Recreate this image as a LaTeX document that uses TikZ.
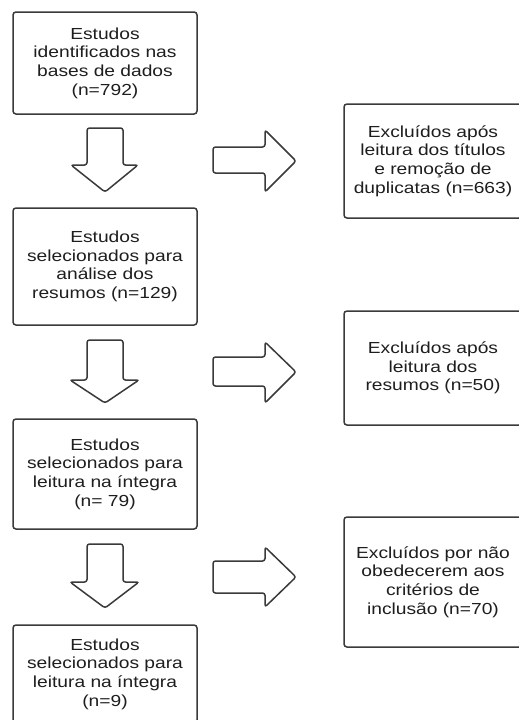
\documentclass[tikz,border=0pt]{standalone}
\usepackage{fontspec}
\setmainfont[FakeStretch=1.2]{Liberation Sans}
\definecolor{ink}{HTML}{1E1E1E}
\definecolor{edge}{HTML}{3A3A3A}
\tikzset{
  box/.style={draw=edge, line width=1.5pt, rounded corners=3pt, align=center,
    text=ink, font=\fontsize{16}{18.7}\selectfont, inner sep=0pt},
  blockarrow/.style={draw=edge, line width=1.5pt, rounded corners=2.5pt, fill=white}
}
\begin{document}
\begin{tikzpicture}[x=1pt,y=-1pt]
\useasboundingbox (0,0) rectangle (519,720);
\clip (0,0) rectangle (519,720);
\fill[white] (0,0) rectangle (519,720);

% left column boxes
\node[box, minimum width=184pt, minimum height=102pt] (b1) at (105,63)
  {Estudos\\identificados nas\\bases de dados\\(n=792)};
\node[box, minimum width=184pt, minimum height=117pt] (b2) at (105,266.5)
  {Estudos\\selecionados para\\análise dos\\resumos (n=129)};
\node[box, minimum width=184pt, minimum height=110pt] (b3) at (105,474)
  {Estudos\\selecionados para\\leitura na íntegra\\(n= 79)};
\node[box, minimum width=184pt, minimum height=98pt] (b4) at (105,674)
  {Estudos\\selecionados para\\leitura na íntegra\\(n=9)};

% right column boxes
\node[box, minimum width=178pt, minimum height=114pt] (e1) at (433,161)
  {Excluídos após\\leitura dos títulos\\e remoção de\\duplicatas (n=663)};
\node[box, minimum width=178pt, minimum height=114pt] (e2) at (433,368)
  {Excluídos após\\leitura dos\\resumos (n=50)};
\node[box, minimum width=178pt, minimum height=130pt] (e3) at (433,582)
  {Excluídos por não\\obedecerem aos\\critérios de\\inclusão (n=70)};

% down block arrows
\draw[blockarrow] (87,128) -- (123,128) -- (123,165) -- (138,165) -- (105,192)
  -- (71,165) -- (87,165) -- cycle;
\draw[blockarrow] (87,340) -- (123,340) -- (123,380) -- (139,380) -- (105,403)
  -- (70,380) -- (87,380) -- cycle;
\draw[blockarrow] (87,544) -- (123,544) -- (123,582) -- (139,582) -- (105,608)
  -- (70,582) -- (87,582) -- cycle;

% right block arrows
\draw[blockarrow] (213,147) -- (265,147) -- (265,130) -- (296,161) -- (265,192)
  -- (265,173) -- (213,173) -- cycle;
\draw[blockarrow] (213,357) -- (265,357) -- (265,342) -- (296,372) -- (265,403)
  -- (265,386) -- (213,386) -- cycle;
\draw[blockarrow] (213,561) -- (265,561) -- (265,547) -- (296,577) -- (265,607)
  -- (265,593) -- (213,593) -- cycle;
\end{tikzpicture}
\end{document}
